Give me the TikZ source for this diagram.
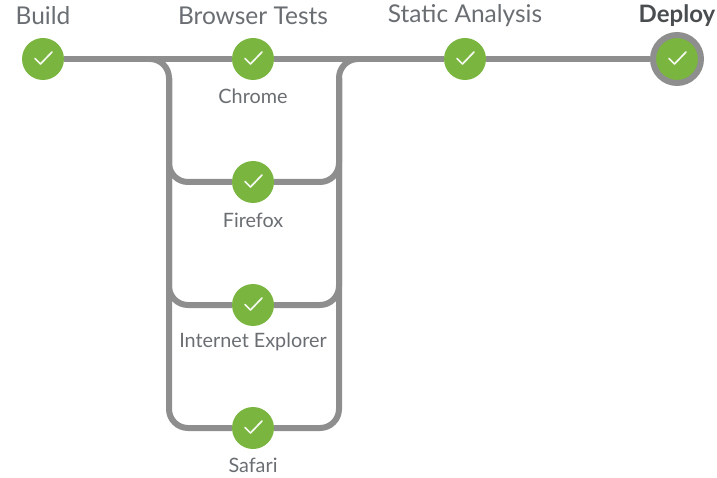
\documentclass[tikz,border=0pt]{standalone}
\usepackage{fontspec}
\usetikzlibrary{backgrounds}
\setmainfont{Lato}
\definecolor{stagegreen}{HTML}{7AB53F}
\definecolor{pipegray}{HTML}{8E8E8E}
\definecolor{labelgray}{HTML}{6A6E72}
\definecolor{deploygray}{HTML}{4A4D50}
\tikzset{
  x=1pt,y=-1pt,
  stage/.style={circle,fill=stagegreen,minimum size=42pt,inner sep=0pt,
    path picture={\draw[white!92!stagegreen,line width=1.7pt,line cap=round,line join=round]
      ([shift={(-8pt,0.5pt)}]path picture bounding box.center) -- ++(5.5pt,-5.5pt) -- ++(11.5pt,12pt);}},
  pipe/.style={draw=pipegray,line width=6pt},
  curvedpipe/.style={pipe,rounded corners=19pt},
  title/.style={text=labelgray,font=\fontsize{24.5}{28}\selectfont,anchor=center,inner sep=0pt},
  sub/.style={text=labelgray,font=\fontsize{19.8}{24}\selectfont,anchor=center,inner sep=0pt},
}
\begin{document}
\begin{tikzpicture}
\useasboundingbox (0,0) rectangle (717,478);
\coordinate (lfork) at (150,59);
\coordinate (rfork) at (358,59);
\coordinate (lbus) at (169,59);
\coordinate (rbus) at (339,59);
\coordinate (lstart) at (169,78);
\coordinate (rstart) at (339,78);
\coordinate (lend) at (169,428);
\coordinate (rend) at (339,428);
\coordinate (lf) at (169,182);
\coordinate (rf) at (339,182);
\coordinate (li) at (169,305);
\coordinate (ri) at (339,305);
\node[stage] (build) at (43,59) {};
\node[stage] (chrome) at (253,59) {};
\node[stage] (static) at (465,59) {};
\node[stage,draw=pipegray,line width=6pt,minimum size=48pt] (deploy) at (677,59) {};
\node[stage] (firefox) at (253,182) {};
\node[stage] (ie) at (253,305) {};
\node[stage] (safari) at (253,428) {};
\begin{scope}[on background layer]
\draw[pipe] (build) -- (chrome);
\draw[pipe] (chrome) -- (static);
\draw[pipe] (static) -- (deploy);
\draw[curvedpipe] (lfork) -- (lbus) -- (lend) -- (safari);
\draw[curvedpipe] (rfork) -- (rbus) -- (rend) -- (safari);
\draw[curvedpipe] (lstart) -- (lf) -- (firefox);
\draw[curvedpipe] (rstart) -- (rf) -- (firefox);
\draw[curvedpipe] (lstart) -- (li) -- (ie);
\draw[curvedpipe] (rstart) -- (ri) -- (ie);
\end{scope}
\node[title] (t1) at (43,16) {Build};
\node[title] (t2) at (253,16) {Browser Tests};
\node[title] (t3) at (465,16) {Static Analysis};
\node[title,text=deploygray,font=\fontsize{24}{28}\selectfont\bfseries] (t4) at (677,16) {Deploy};
\node[sub] (s1) at (253,96) {Chrome};
\node[sub] (s2) at (253,220) {Firefox};
\node[sub] (s3) at (253,342) {Internet Explorer};
\node[sub] (s4) at (253,465) {Safari};
\end{tikzpicture}
\end{document}
